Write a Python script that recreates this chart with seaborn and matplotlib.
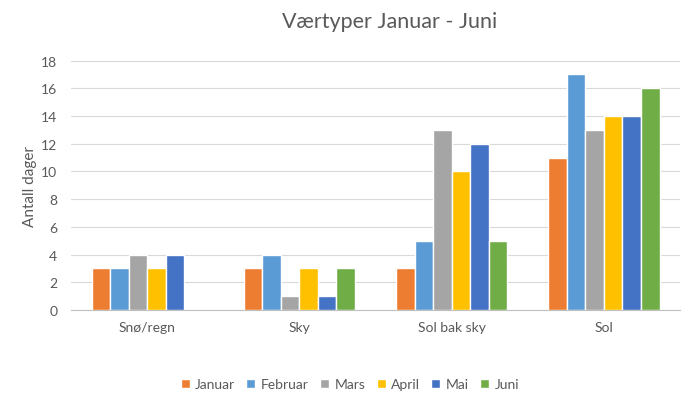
import pandas as pd
import seaborn as sns
from matplotlib import pyplot as plt

categories = ['Snø/regn', 'Sky', 'Sol bak sky', 'Sol']
months = ['Januar', 'Februar', 'Mars', 'April', 'Mai', 'Juni']
januar = [3, 3, 3, 11]
februar = [3, 4, 5, 17]
mars = [4, 1, 13, 13]
april = [3, 3, 10, 14]
mai = [4, 1, 12, 14]
juni = [0, 3, 5, 16]
colors = ['#ED7D31', '#5B9BD5', '#A5A5A5', '#FFC000', '#4472C4', '#70AD47']


def build_frame():
    rows = []
    for month, vals in zip(months, [januar, februar, mars, april, mai, juni]):
        for cat, v in zip(categories, vals):
            rows.append({'Type': cat, 'Måned': month, 'Dager': v})
    return pd.DataFrame(rows)


def main():
    sns.set_style('white')
    plt.rcParams['font.family'] = ['Lato', 'DejaVu Sans']
    df = build_frame()
    fig = plt.figure(figsize=(6.95, 4.06), dpi=100)
    ax = fig.add_axes([0.1022, 0.234, 0.8763, 0.6145])
    sns.barplot(data=df, x='Type', y='Dager', hue='Måned', palette=colors,
                width=0.73, saturation=1, ax=ax, zorder=3)
    ax.set_ylim(0, 18)
    ax.set_yticks(range(0, 19, 2))
    ax.yaxis.grid(True, color='#D9D9D9', linewidth=0.8, zorder=0)
    ax.set_axisbelow(True)
    for s in ['top', 'right', 'left']:
        ax.spines[s].set_visible(False)
    ax.spines['bottom'].set_color('#BFBFBF')
    ax.tick_params(axis='both', colors='#595959', labelsize=10, length=0)
    ax.tick_params(axis='x', pad=8)
    ax.tick_params(axis='y', pad=10)
    ax.set_xlabel('')
    ax.set_ylabel('Antall dager', color='#595959', fontsize=11, labelpad=3)
    fig.text(0.561, 0.945, 'Værtyper Januar - Juni', ha='center', va='center',
             fontsize=15.5, color='#595959')
    ax.legend(loc='center', bbox_to_anchor=(0.458, -0.298), ncol=6, frameon=False,
              fontsize=10, handlelength=0.65, handleheight=0.65,
              columnspacing=0.8, handletextpad=0.4, labelcolor='#595959')
    fig.savefig('out.png', dpi=100)


if __name__ == '__main__':
    main()
